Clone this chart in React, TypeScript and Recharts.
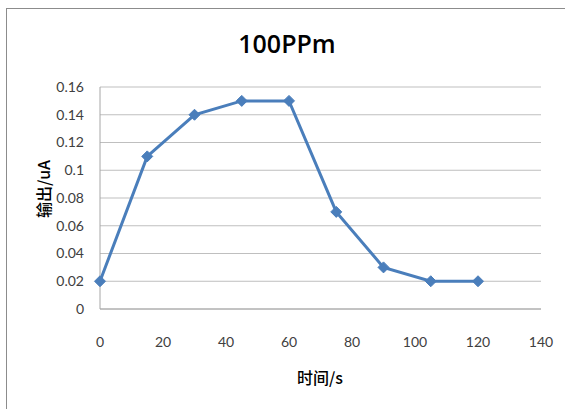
import React from 'react';
import { LineChart, Line, XAxis, YAxis, CartesianGrid } from 'recharts';

const timeSeconds = [0, 15, 30, 45, 60, 75, 90, 105, 120];
const outputUA = [0.02, 0.11, 0.14, 0.15, 0.15, 0.07, 0.03, 0.02, 0.02];
const xTicks = [0, 20, 40, 60, 80, 100, 120, 140];
const yTicks = [0, 0.02, 0.04, 0.06, 0.08, 0.1, 0.12, 0.14, 0.16];

const data = timeSeconds.map((t, i) => ({ t, v: outputUA[i] }));

const FONT = 'Lato, "Noto Sans", "Noto Sans CJK SC", sans-serif';

const Diamond = (props: any) => {
  const { cx, cy, index } = props;
  if (cx == null || cy == null) return null;
  const r = 5.5;
  return (
    <polygon
      key={`d${index}`}
      points={`${cx},${cy - r} ${cx + r},${cy} ${cx},${cy + r} ${cx - r},${cy}`}
      fill="#4a7ebb"
      stroke="#4a7ebb"
    />
  );
};

export default function App() {
  return (
    <div style={{ position: 'relative', width: 565, height: 409, background: '#fff', fontFamily: FONT }}>
      <style>{`body{margin:0;background:#fff}`}</style>
      <div
        style={{
          position: 'absolute',
          left: 6,
          top: 8,
          width: 565,
          height: 409,
          borderLeft: '1.5px solid #8c8c8c',
          borderTop: '1.5px solid #8c8c8c',
        }}
      />
      <div style={{ position: 'absolute', left: 0, top: 0 }}>
        <LineChart
          width={565}
          height={409}
          data={data}
          margin={{ top: 87, right: 24, bottom: 70, left: 40 }}
        >
          <CartesianGrid vertical={false} stroke="#bfbfbf" strokeWidth={1} />
          <XAxis
            dataKey="t"
            type="number"
            domain={[0, 140]}
            ticks={xTicks}
            tickLine={false}
            axisLine={{ stroke: '#a6a6a6' }}
            tick={{ fill: '#404040', fontSize: 14, fontFamily: FONT }}
            tickMargin={22}
            height={30}
            interval={0}
          />
          <YAxis
            type="number"
            domain={[0, 0.16]}
            ticks={yTicks}
            tickLine={false}
            axisLine={{ stroke: '#a6a6a6' }}
            tick={{ fill: '#404040', fontSize: 14, fontFamily: FONT }}
            tickMargin={10}
            width={60}
            interval={0}
          />
          <Line
            dataKey="v"
            stroke="#4a7ebb"
            strokeWidth={3}
            dot={Diamond}
            activeDot={false}
            isAnimationActive={false}
          />
        </LineChart>
      </div>
      <div
        style={{
          position: 'absolute',
          left: 187,
          width: 200,
          top: 26,
          textAlign: 'center',
          fontSize: 25,
          fontWeight: 600,
          color: '#000',
          fontFamily: '"Open Sans", Lato, sans-serif',
        }}
      >
        100PPm
      </div>
      <div
        style={{
          position: 'absolute',
          left: 270,
          width: 100,
          top: 365,
          textAlign: 'center',
          fontSize: 16,
          fontWeight: 500,
          color: '#000',
          fontFamily: '"Noto Sans CJK SC", sans-serif',
        }}
      >
        时间/s
      </div>
      <div
        style={{
          position: 'absolute',
          left: 43 - 50,
          width: 100,
          top: 189 - 12,
          textAlign: 'center',
          fontSize: 16,
          fontWeight: 500,
          color: '#000',
          transform: 'rotate(-90deg)',
          fontFamily: '"Noto Sans CJK SC", sans-serif',
        }}
      >
        输出/uA
      </div>
    </div>
  );
}
